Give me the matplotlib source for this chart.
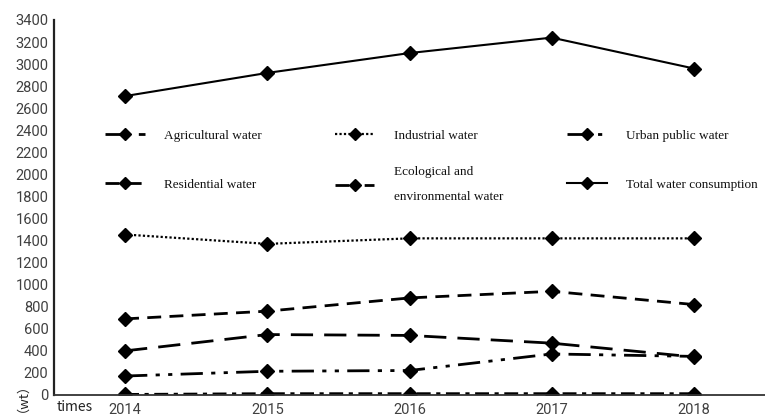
import matplotlib
matplotlib.use("Agg")
import matplotlib.pyplot as plt
from matplotlib.legend import Legend
import numpy as np

years = ["2014", "2015", "2016", "2017", "2018"]
agricultural = [400, 548, 540, 470, 345]
industrial = [1455, 1370, 1420, 1420, 1420]
urban_public = [172, 215, 222, 372, 350]
residential = [690, 760, 880, 940, 820]
ecological = [5, 12, 12, 12, 12]
total = [2710, 2920, 3100, 3240, 2960]

plt.rcParams["font.family"] = ["Roboto", "DejaVu Sans"]

fig = plt.figure(figsize=(7.65, 4.16), dpi=100)
ax = fig.add_axes([0.0706, 0.0505, 0.9294, 0.9015])

x = np.arange(len(years))
mk = dict(marker="D", markersize=7, color="black", markeredgecolor="black")

h_agri, = ax.plot(x, agricultural, lw=2, linestyle=(0, (8, 4)), **mk)
h_ind, = ax.plot(x, industrial, lw=1.6, linestyle=(0, (1, 1)), **mk)
h_urb, = ax.plot(x, urban_public, lw=2, linestyle=(0, (8, 3, 1.5, 3, 1.5, 3)), **mk)
h_res, = ax.plot(x, residential, lw=2, linestyle=(0, (5, 3)), **mk)
h_eco, = ax.plot(x, ecological, lw=2, linestyle=(0, (5, 2, 1.5, 2)), **mk)
h_tot, = ax.plot(x, total, lw=1.5, linestyle="-", **mk)

ax.set_xlim(-0.5, len(years) - 0.5)
ax.set_ylim(0, 3400)
ax.set_yticks(np.arange(0, 3401, 200))
ax.set_xticks(x)
ax.set_xticklabels(years)
ax.tick_params(length=0, labelsize=10.5, labelcolor="#404040", pad=4)
ax.tick_params(axis="x", pad=6)

for s in ("top", "right"):
    ax.spines[s].set_visible(False)
ax.spines["left"].set_linewidth(1.6)
ax.spines["bottom"].set_linewidth(1.3)
ax.spines["left"].set_color("#222222")
ax.spines["bottom"].set_color("#333333")

# legend as three separate columns so each can sit where it should
columns = [
    ([h_agri, h_res], ["Agricultural water", "Residential water"], 0.0717, 2.8),
    ([h_ind, h_eco], ["Industrial water", "Ecological and\nenvironmental water"], 0.395, 1.84),
    ([h_urb, h_tot], ["Urban public water", "Total water consumption"], 0.7215, 2.8),
]
for hs, ls, x0, spacing in columns:
    leg = Legend(ax, hs, ls, loc="upper left", bbox_to_anchor=(x0, 0.708),
                 frameon=False, borderpad=0, borderaxespad=0,
                 prop={"family": "Liberation Serif", "size": 9.5},
                 handlelength=3.0, handletextpad=1.5, labelspacing=spacing,
                 markerscale=0.85)
    for t in leg.get_texts():
        t.set_linespacing(2.5)
        t.set_color("#111111")
    ax.add_artist(leg)

fig.text(0.074, 0.005, "times", fontsize=10, family=["Noto Sans CJK SC", "DejaVu Sans"],
         color="#222222", ha="left", va="bottom")
fig.text(0.012, 0.01, "（wt）", fontsize=9.5, family=["Noto Sans CJK SC", "DejaVu Sans"],
         color="#222222", rotation=90, ha="left", va="bottom")

fig.savefig("out.png", dpi=100)
